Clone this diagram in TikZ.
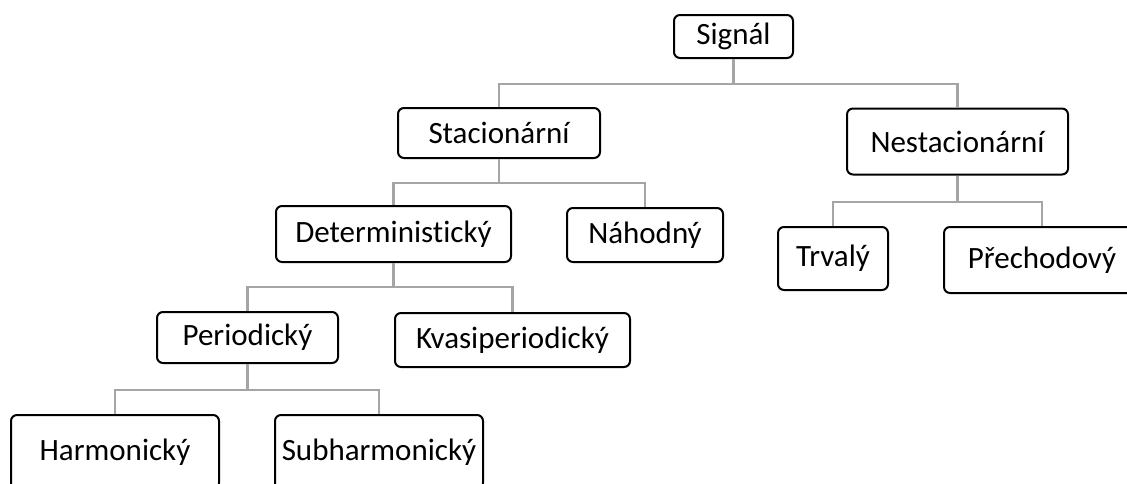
\documentclass[tikz,border=0pt]{standalone}
\usepackage{fontspec}
\setmainfont{Carlito}[Ligatures=NoCommon]
\usepackage{xcolor}
\usepackage{tikz}

\definecolor{linkgray}{HTML}{A5A5A5}
\tikzset{
  box/.style={draw=black, line width=1pt, rounded corners=3pt, fill=white,
    inner sep=0pt, font=\fontsize{15.5}{18}\selectfont},
  link/.style={draw=linkgray, line width=1.4pt}
}

\begin{document}
\begin{tikzpicture}[x=0.5pt, y=-0.5pt]
        \useasboundingbox (0,0) rectangle (1127,483);
        \clip (0,0) rectangle (1127,483);

        % levels of the horizontal bars
        \coordinate (bar0) at (0,84);
        \coordinate (bar1) at (0,183);
        \coordinate (bar2) at (0,202);
        \coordinate (bar3) at (0,287);
        \coordinate (bar4) at (0,390);

        \node[box, minimum width=119pt*0.5, minimum height=43pt*0.5] (sig) at (733.5,36.5) {Signál};
        \node[box, minimum width=202pt*0.5, minimum height=50pt*0.5] (stac) at (499,133) {Stacionární};
        \node[box, minimum width=221pt*0.5, minimum height=66pt*0.5] (nestac) at (957.5,141.5) {Nestacionární};
        \node[box, minimum width=235pt*0.5, minimum height=56pt*0.5] (det) at (393.5,234) {Deterministický};
        \node[box, minimum width=156pt*0.5, minimum height=54pt*0.5] (nah) at (645,235) {Náhodný};
        \node[box, minimum width=110pt*0.5, minimum height=63pt*0.5] (trv) at (833,258.5) {Trvalý};
        \node[box, minimum width=196pt*0.5, minimum height=66pt*0.5] (prech) at (1042,260) {Přechodový};
        \node[box, minimum width=181pt*0.5, minimum height=51pt*0.5] (per) at (247.5,337.5) {Periodický};
        \node[box, minimum width=235pt*0.5, minimum height=54pt*0.5] (kvas) at (512.5,340) {Kvasiperiodický};
        \node[box, minimum width=208pt*0.5, minimum height=74pt*0.5] (harm) at (115,452) {Harmonický};
        \node[box, minimum width=208pt*0.5, minimum height=74pt*0.5] (subh) at (379,452) {Subharmonický};

        % tree connectors
        \draw[link] (sig.south) -- (sig.south |- bar0) -| (stac.north);
        \draw[link] (sig.south |- bar0) -| (nestac.north);
        \draw[link] (stac.south) -- (stac.south |- bar1) -| (det.north);
        \draw[link] (stac.south |- bar1) -| (nah.north);
        \draw[link] (nestac.south) -- (nestac.south |- bar2) -| (trv.north);
        \draw[link] (nestac.south |- bar2) -| (prech.north);
        \draw[link] (det.south) -- (det.south |- bar3) -| (per.north);
        \draw[link] (det.south |- bar3) -| (kvas.north);
        \draw[link] (per.south) -- (per.south |- bar4) -| (harm.north);
        \draw[link] (per.south |- bar4) -| (subh.north);
    \end{tikzpicture}
\end{document}
